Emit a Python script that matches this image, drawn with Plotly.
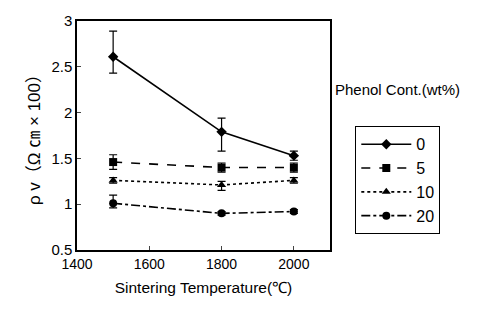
import plotly.graph_objects as go

temps = [1500, 1800, 2000]
series_names = ["0", "5", "10", "20"]
rho_0 = [2.61, 1.79, 1.53]
rho_5 = [1.46, 1.40, 1.40]
rho_10 = [1.26, 1.21, 1.26]
rho_20 = [1.01, 0.90, 0.92]
err_up_0 = [0.28, 0.15, 0.05]
err_dn_0 = [0.18, 0.21, 0.05]
err_up_5 = [0.08, 0.05, 0.05]
err_dn_5 = [0.08, 0.05, 0.05]
err_up_10 = [0.03, 0.04, 0.03]
err_dn_10 = [0.03, 0.06, 0.03]
err_up_20 = [0.09, 0.02, 0.02]
err_dn_20 = [0.05, 0.02, 0.02]

values = [rho_0, rho_5, rho_10, rho_20]
ups = [err_up_0, err_up_5, err_up_10, err_up_20]
dns = [err_dn_0, err_dn_5, err_dn_10, err_dn_20]
symbols = ["diamond", "square", "triangle-up", "circle"]
dashes = ["solid", "dash", "dot", "dashdot"]

fig = go.Figure()
for name, v, u, d, s, ds in zip(series_names, values, ups, dns, symbols, dashes):
    fig.add_trace(go.Scatter(
        x=temps, y=v, name=name, mode="lines+markers",
        line=dict(color="black", width=1.6, dash=ds),
        marker=dict(symbol=s, size=8, color="black"),
        error_y=dict(type="data", symmetric=False, array=u, arrayminus=d,
                     color="black", thickness=1.2, width=4),
    ))

fig.update_layout(
    width=489, height=326,
    margin=dict(l=77, r=159, t=14, b=76),
    plot_bgcolor="white", paper_bgcolor="white",
    font=dict(family="Liberation Sans, Arial", size=13, color="black"),
    showlegend=True,
    legend=dict(x=1.10, y=0.54, xanchor="left", yanchor="top",
                bordercolor="black", borderwidth=1,
                font=dict(size=16), tracegroupgap=0, itemwidth=50,
                bgcolor="white"),
    annotations=[dict(text="Phenol Cont.(wt%)", x=1.01, y=0.70,
                      xref="paper", yref="paper", xanchor="left", yanchor="middle",
                      showarrow=False, font=dict(size=15))],
)
fig.update_xaxes(range=[1400, 2100], tickvals=[1400, 1600, 1800, 2000],
                 showline=True, linecolor="black", linewidth=1.5, mirror=True,
                 ticks="inside", ticklen=4, showgrid=False, zeroline=False,
                 tickfont=dict(size=14),
                 title=dict(text="Sintering Temperature(℃)", font=dict(size=15.5), standoff=12))
fig.update_yaxes(range=[0.5, 3], tickvals=[0.5, 1, 1.5, 2, 2.5, 3],
                 showline=True, linecolor="black", linewidth=1.5, mirror=True,
                 ticks="inside", ticklen=4, showgrid=False, zeroline=False,
                 tickfont=dict(size=15),
                 title=dict(text="ρ v（Ω ㎝ × 100）",
                            font=dict(size=17, family="Liberation Sans, Noto Sans CJK JP"),
                            standoff=6))

fig.write_html("out.html")
